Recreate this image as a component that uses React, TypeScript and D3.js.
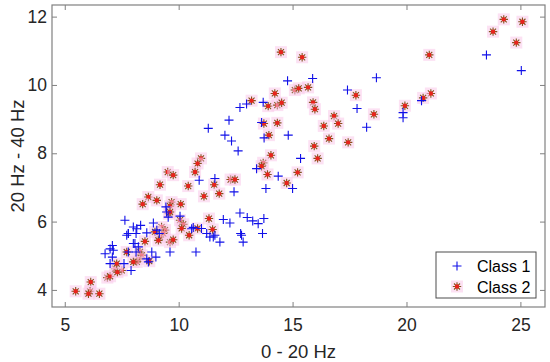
import React, { useEffect, useRef } from "react";
import * as d3 from "d3";

// values: [0 - 20 Hz, 20 Hz - 40 Hz]
const class1: [number, number][] = [
  [14.78, 10.12], [12.69, 9.34], [12.98, 9.44], [13.71, 9.49], [12.21, 8.97], [13.64, 8.9],
  [11.3, 8.73], [12.03, 8.53], [12.32, 8.36], [13.75, 8.45], [14.81, 8.53], [12.61, 8.07],
  [15.35, 7.85], [15.88, 10.19], [18.68, 10.21], [23.51, 10.88], [25.04, 10.42], [17.41, 9.85],
  [17.83, 9.31], [18.25, 8.76], [19.85, 9.19], [19.85, 9.04], [20.66, 9.54],
  [7.09, 5.3], [6.99, 5.2], [7.13, 5.16], [6.77, 5.06], [7.09, 4.96], [6.99, 4.77], [7.6, 4.77],
  [7.91, 4.57], [7.72, 5.6], [7.79, 5.65], [8.08, 5.36], [9.44, 6.43], [9.47, 6.28], [9.54, 6.13],
  [10.06, 6.16], [7.64, 6.04], [8.01, 5.84], [8.16, 5.79], [8.33, 5.89], [8.89, 5.96], [7.79, 5.65],
  [8.13, 5.65], [8.6, 5.67], [9.04, 5.75], [9.15, 5.65], [10.57, 5.79], [8.01, 5.36], [8.23, 5.26],
  [8.13, 5.11], [7.79, 5.11], [8.82, 5.11], [9.0, 4.96], [8.6, 4.91], [8.67, 4.82], [9.62, 5.11],
  [10.76, 5.11], [10.9, 7.21], [11.59, 7.26], [12.43, 6.87], [12.69, 6.25], [13.01, 6.12],
  [11.96, 6.06], [12.25, 5.96], [12.72, 5.65], [10.64, 5.83], [11.0, 5.8], [11.23, 5.65],
  [11.37, 5.55], [11.52, 5.55], [13.42, 7.55], [14.37, 7.33], [13.83, 6.97], [15.0, 6.97],
  [13.25, 6.02], [13.49, 5.94], [13.74, 6.09], [13.68, 5.65], [12.76, 5.6], [12.83, 5.4],
  [11.59, 5.6], [11.81, 5.4],
];

const class2: [number, number][] = [
  [14.49, 10.96], [15.42, 10.81], [14.22, 9.75], [15.1, 9.85], [15.27, 9.9], [15.68, 9.93],
  [13.2, 9.54], [13.93, 9.38], [14.33, 9.41], [14.52, 9.48], [13.74, 8.87], [14.33, 8.89],
  [13.96, 8.53], [14.05, 7.94], [10.98, 7.85], [24.27, 11.92], [25.09, 11.85], [23.8, 11.56],
  [24.82, 11.24], [21.0, 10.88], [17.78, 9.7], [21.07, 9.75], [20.73, 9.62], [19.93, 9.39],
  [15.9, 9.49], [15.98, 9.29], [16.82, 9.09], [17.0, 8.87], [18.57, 9.14], [16.37, 8.8],
  [16.6, 8.43], [15.95, 8.21], [17.44, 8.32], [16.1, 7.85], [10.83, 7.7], [13.71, 7.72],
  [13.64, 7.62], [9.52, 7.45], [9.76, 7.36], [10.72, 7.45], [13.9, 7.38], [15.22, 7.44],
  [9.18, 7.08], [10.42, 7.04], [11.56, 7.08], [12.28, 7.23], [12.47, 7.23], [14.74, 7.13],
  [11.11, 6.74], [11.78, 6.82], [8.67, 6.72], [8.42, 6.51], [9.04, 6.62], [9.69, 6.57],
  [9.62, 6.45], [10.09, 6.51], [9.57, 6.23], [9.62, 6.28], [11.33, 6.09], [10.06, 6.04],
  [10.2, 5.92], [10.13, 5.8], [11.49, 5.77], [10.83, 5.8], [10.46, 5.6], [9.25, 5.84],
  [9.4, 5.75], [9.32, 5.65], [9.18, 5.55], [8.96, 5.7], [9.11, 5.45], [9.62, 5.4], [9.76, 5.47],
  [8.52, 5.42], [7.72, 5.11], [8.3, 5.11], [8.38, 5.01], [8.23, 4.91], [8.16, 4.82], [8.01, 4.82],
  [8.71, 4.84], [7.5, 4.57], [5.48, 3.96], [6.14, 4.23], [6.11, 3.96], [6.04, 3.89], [6.52, 3.89],
  [6.87, 4.36], [6.99, 4.4], [7.21, 4.62], [7.31, 4.52], [7.28, 4.77],
];

const xTicks = [5, 10, 15, 20, 25];
const yTicks = [4, 6, 8, 10, 12];
const legendLabels = ["Class 1", "Class 2"];

const font = "Arial, 'Liberation Sans', Helvetica, sans-serif";
const plusPath = "M-4.5,0H4.5M0,-4.5V4.5";
const starPath = "M-4.2,0H4.2M0,-4.2V4.2M-3,-3L3,3M-3,3L3,-3";

function drawPlus(g: any) {
  g.append("path").attr("d", plusPath).attr("stroke", "#1010e8").attr("stroke-width", 1.1).attr("fill", "none");
}

function drawStar(g: any) {
  g.append("rect").attr("x", -6).attr("y", -6).attr("width", 12).attr("height", 12)
    .attr("fill", "#f9c8ea").attr("opacity", 0.55);
  g.append("path").attr("d", starPath).attr("stroke", "#80561e").attr("stroke-width", 1.1).attr("fill", "none");
  g.append("circle").attr("r", 2.2).attr("fill", "#e8231c");
}

export default function App() {
  const ref = useRef<SVGSVGElement>(null);

  useEffect(() => {
    const svg = d3.select(ref.current);
    svg.selectAll("*").remove();

    const left = 52, right = 545, top = 5, bottom = 307;
    const x = d3.scaleLinear().domain([4.44, 26.08]).range([left, right]);
    const y = d3.scaleLinear().domain([3.5, 12.34]).range([bottom, top]);

    svg.append("rect").attr("width", 550).attr("height", 362).attr("fill", "#fff");

    // markers
    const g2 = svg.append("g");
    class2.forEach(d => {
      const m = g2.append("g").attr("transform", `translate(${x(d[0])},${y(d[1])})`);
      drawStar(m);
    });
    const g1 = svg.append("g");
    class1.forEach(d => {
      const m = g1.append("g").attr("transform", `translate(${x(d[0])},${y(d[1])})`);
      drawPlus(m);
    });

    // axes (ticks inward on all sides)
    const axisColor = "#808080";
    const styleAxis = (g: any) => {
      g.select(".domain").remove();
      g.selectAll("line").attr("stroke", axisColor);
      g.selectAll("text").attr("fill", "#262626").attr("font-size", 17.5).attr("font-family", font);
    };
    svg.append("g").attr("transform", `translate(0,${bottom})`)
      .call(d3.axisBottom(x).tickValues(xTicks).tickSize(-5).tickPadding(12).tickFormat(d3.format("d")))
      .call(styleAxis);
    svg.append("g").attr("transform", `translate(0,${top})`)
      .call(d3.axisTop(x).tickValues(xTicks).tickSize(-5).tickFormat(() => ""))
      .call(styleAxis);
    svg.append("g").attr("transform", `translate(${left},0)`)
      .call(d3.axisLeft(y).tickValues(yTicks).tickSize(-5).tickPadding(5).tickFormat(d3.format("d")))
      .call(styleAxis);
    svg.append("g").attr("transform", `translate(${right},0)`)
      .call(d3.axisRight(y).tickValues(yTicks).tickSize(-5).tickFormat(() => ""))
      .call(styleAxis);

    svg.append("rect").attr("x", left).attr("y", top).attr("width", right - left).attr("height", bottom - top)
      .attr("fill", "none").attr("stroke", axisColor).attr("stroke-width", 1.2);

    // axis titles
    svg.append("text").attr("x", (left + right) / 2).attr("y", 357.5).attr("text-anchor", "middle")
      .attr("font-size", 18.5).attr("font-family", font).attr("fill", "#262626").text("0 - 20 Hz");
    svg.append("text").attr("transform", `translate(24,${(top + bottom) / 2}) rotate(-90)`)
      .attr("text-anchor", "middle").attr("font-size", 18.5).attr("font-family", font).attr("fill", "#262626")
      .text("20 Hz - 40 Hz");

    // legend
    const lg = svg.append("g").attr("transform", "translate(436,252)");
    lg.append("rect").attr("width", 100).attr("height", 46).attr("fill", "#fff").attr("stroke", "#4d4d4d").attr("stroke-width", 1);
    legendLabels.forEach((label, i) => {
      const row = lg.append("g").attr("transform", `translate(21,${14 + i * 20.5})`);
      if (i === 0) drawPlus(row); else drawStar(row);
      row.append("text").attr("x", 20).attr("y", 6).attr("font-size", 16).attr("font-family", font)
        .attr("fill", "#000").text(label);
    });
  }, []);

  return (
    <svg ref={ref} width={550} height={362} style={{ position: "absolute", left: 0, top: 0 }} />
  );
}
